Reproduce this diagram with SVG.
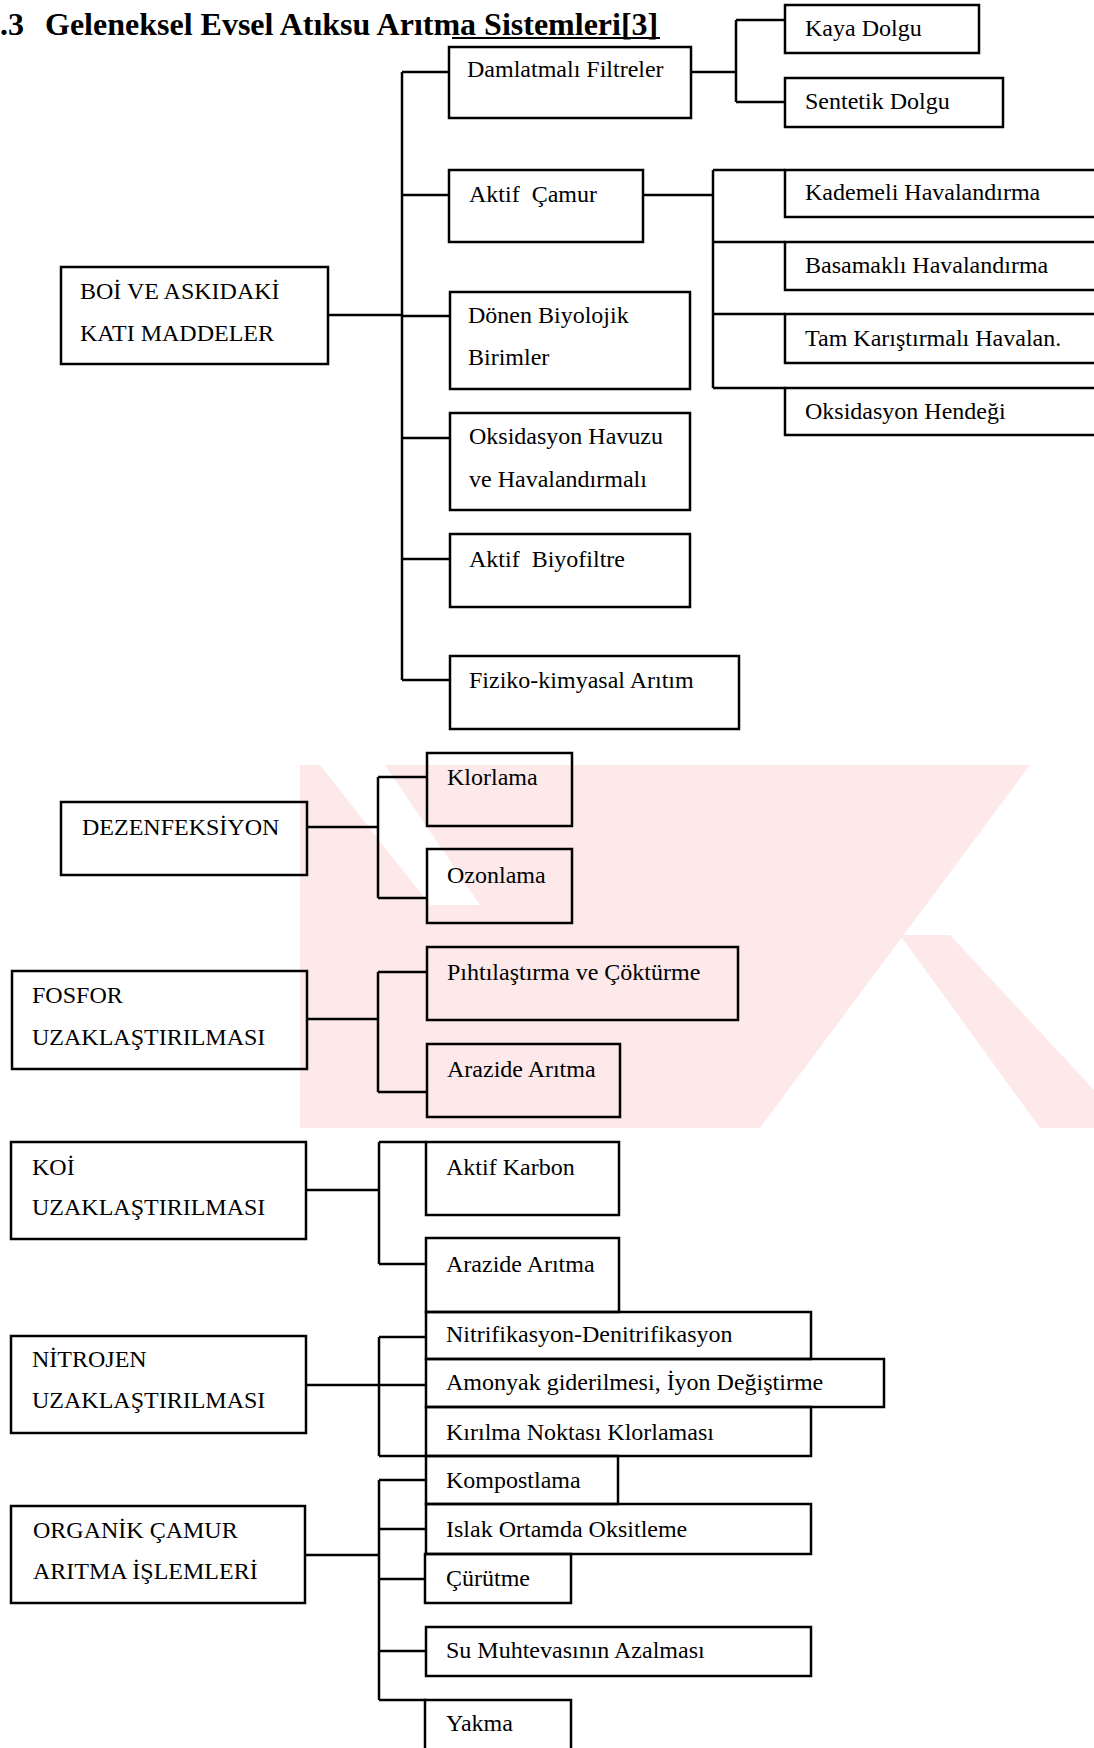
<svg xmlns="http://www.w3.org/2000/svg" width="1094" height="1748" viewBox="0 0 1094 1748">
<style>
.b{fill:none;stroke:#000;stroke-width:2.5}
.c{fill:none;stroke:#000;stroke-width:2.5}
.wm{fill:#fde9e9;stroke:none}
text{font-family:"Liberation Serif","Times New Roman",serif;font-size:24px;fill:#000}
.title{font-weight:bold;font-size:32px}
</style>
<rect width="1094" height="1748" fill="#fff"/>
<g id="watermark">
<polygon class="wm" points="300,765 1030,765 760,1128 300,1128"/>
<polygon class="wm" points="900,935 950,935 1094,1090 1094,1128 1040,1128"/>
<polygon fill="#fff" points="320,765 385,765 480,905 430,905"/>
</g>
<g id="title">
<text class="title" y="35"><tspan x="0">.3</tspan><tspan x="45">Geleneksel Evsel Atıksu Arıtma Sistemleri[3]</tspan></text>
<line x1="452" y1="38" x2="660" y2="38" stroke="#000" stroke-width="2"/>
</g>
<g id="connectors">
<path class="c" d="M402,72 V680 M402,72 H449 M402,195 H449 M402,316 H450 M402,438 H450 M402,559 H450 M402,680 H450 M328,315 H402"/>
<path class="c" d="M691,72 H736 M736,20 V102 M736,20 H785 M736,102 H785"/>
<path class="c" d="M643,195 H713 M713,170 V388 M713,170 H785 M713,242 H785 M713,314 H785 M713,388 H785"/>
<path class="c" d="M307,827 H378 M378,777 V898 M378,777 H427 M378,898 H427"/>
<path class="c" d="M307,1019 H378 M378,972 V1092 M378,972 H427 M378,1092 H427"/>
<path class="c" d="M306,1190 H379 M379,1142 V1264 M379,1142 H426 M379,1264 H426"/>
<path class="c" d="M306,1385 H426 M379,1337 V1456 M379,1337 H426 M379,1456 H426"/>
<path class="c" d="M305,1555 H379 M379,1480 V1700 M379,1480 H426 M379,1529 H426 M379,1579 H426 M379,1651 H426 M379,1700 H426"/>
</g>
<g id="n_damlatmali"><rect class="b" x="449" y="47" width="242" height="71"/><text x="467" y="77">Damlatmalı Filtreler</text></g>
<g id="n_kaya"><rect class="b" x="785" y="5" width="194" height="48"/><text x="805" y="36">Kaya Dolgu</text></g>
<g id="n_sentetik"><rect class="b" x="785" y="78" width="218" height="49"/><text x="805" y="109">Sentetik Dolgu</text></g>
<g id="n_aktifcamur"><rect class="b" x="449" y="170" width="194" height="72"/><text x="469" y="202" xml:space="preserve">Aktif  Çamur</text></g>
<g id="n_kademeli"><rect class="b" x="785" y="170" width="330" height="47"/><text x="805" y="200">Kademeli Havalandırma</text></g>
<g id="n_basamakli"><rect class="b" x="785" y="242" width="330" height="48"/><text x="805" y="273">Basamaklı Havalandırma</text></g>
<g id="n_tam"><rect class="b" x="785" y="314" width="330" height="49"/><text x="805" y="346">Tam Karıştırmalı Havalan.</text></g>
<g id="n_hendek"><rect class="b" x="785" y="388" width="330" height="47"/><text x="805" y="419">Oksidasyon Hendeği</text></g>
<g id="n_boi"><rect class="b" x="61" y="267" width="267" height="97"/><text x="80" y="299">BOİ VE ASKIDAKİ</text><text x="80" y="341">KATI MADDELER</text></g>
<g id="n_donen"><rect class="b" x="450" y="292" width="240" height="97"/><text x="468" y="323">Dönen Biyolojik</text><text x="468" y="365">Birimler</text></g>
<g id="n_oksihavuz"><rect class="b" x="450" y="413" width="240" height="97"/><text x="469" y="444">Oksidasyon Havuzu</text><text x="469" y="487">ve Havalandırmalı</text></g>
<g id="n_biyofiltre"><rect class="b" x="450" y="534" width="240" height="73"/><text x="469" y="567" xml:space="preserve">Aktif  Biyofiltre</text></g>
<g id="n_fiziko"><rect class="b" x="450" y="656" width="289" height="73"/><text x="469" y="688">Fiziko-kimyasal Arıtım</text></g>
<g id="n_dez"><rect class="b" x="61" y="802" width="246" height="73"/><text x="82" y="835">DEZENFEKSİYON</text></g>
<g id="n_klor"><rect class="b" x="427" y="753" width="145" height="73"/><text x="447" y="785">Klorlama</text></g>
<g id="n_ozon"><rect class="b" x="427" y="849" width="145" height="74"/><text x="447" y="883">Ozonlama</text></g>
<g id="n_fosfor"><rect class="b" x="12" y="971" width="295" height="98"/><text x="32" y="1003">FOSFOR</text><text x="32" y="1045">UZAKLAŞTIRILMASI</text></g>
<g id="n_pihti"><rect class="b" x="427" y="947" width="311" height="73"/><text x="447" y="980">Pıhtılaştırma ve Çöktürme</text></g>
<g id="n_arazide1"><rect class="b" x="427" y="1044" width="193" height="73"/><text x="447" y="1077">Arazide Arıtma</text></g>
<g id="n_koi"><rect class="b" x="11" y="1142" width="295" height="97"/><text x="32" y="1175">KOİ</text><text x="32" y="1215">UZAKLAŞTIRILMASI</text></g>
<g id="n_karbon"><rect class="b" x="426" y="1142" width="193" height="73"/><text x="446" y="1175">Aktif Karbon</text></g>
<g id="n_arazide2"><rect class="b" x="426" y="1238" width="193" height="74"/><text x="446" y="1272">Arazide Arıtma</text></g>
<g id="n_nitrojen"><rect class="b" x="11" y="1336" width="295" height="97"/><text x="32" y="1367">NİTROJEN</text><text x="32" y="1408">UZAKLAŞTIRILMASI</text></g>
<g id="n_nitri"><rect class="b" x="426" y="1312" width="385" height="47"/><text x="446" y="1342">Nitrifikasyon-Denitrifikasyon</text></g>
<g id="n_amonyak"><rect class="b" x="426" y="1359" width="458" height="48"/><text x="446" y="1390">Amonyak giderilmesi, İyon Değiştirme</text></g>
<g id="n_kirilma"><rect class="b" x="426" y="1407" width="385" height="49"/><text x="446" y="1440">Kırılma Noktası Klorlaması</text></g>
<g id="n_organik"><rect class="b" x="11" y="1506" width="294" height="97"/><text x="33" y="1538">ORGANİK ÇAMUR</text><text x="33" y="1579">ARITMA İŞLEMLERİ</text></g>
<g id="n_kompost"><rect class="b" x="426" y="1456" width="192" height="48"/><text x="446" y="1488">Kompostlama</text></g>
<g id="n_islak"><rect class="b" x="426" y="1504" width="385" height="50"/><text x="446" y="1537">Islak Ortamda Oksitleme</text></g>
<g id="n_curutme"><rect class="b" x="425" y="1554" width="146" height="49"/><text x="446" y="1586">Çürütme</text></g>
<g id="n_su"><rect class="b" x="426" y="1627" width="385" height="49"/><text x="446" y="1658">Su Muhtevasının Azalması</text></g>
<g id="n_yakma"><rect class="b" x="425" y="1700" width="146" height="60"/><text x="446" y="1731">Yakma</text></g>
</svg>
